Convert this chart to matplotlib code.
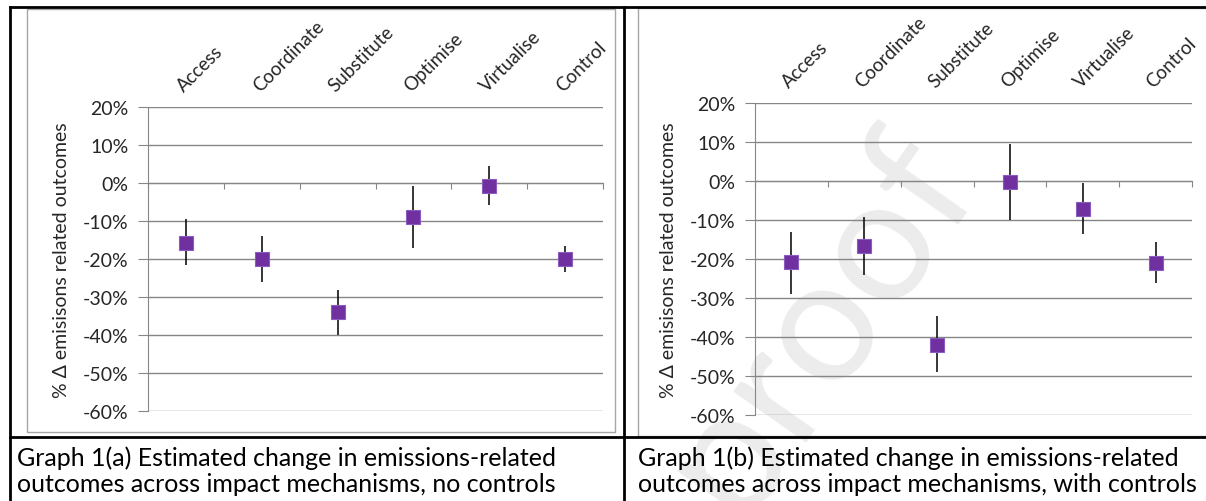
import numpy as np
import matplotlib.pyplot as plt
from matplotlib.lines import Line2D
from matplotlib.patches import Rectangle

plt.rcParams['font.family'] = ['Lato', 'DejaVu Sans']

# data (values in %)
categories = ["Access", "Coordinate", "Substitute", "Optimise", "Virtualise", "Control"]

est_a = [-15.7, -20.1, -33.9, -9.0, -0.7, -20.1]
hi_a = [-9.4, -14.0, -28.1, -0.9, 4.5, -16.6]
lo_a = [-21.7, -26.1, -39.9, -17.1, -5.8, -23.4]

est_b = [-20.8, -16.6, -42.0, -0.3, -7.1, -21.0]
hi_b = [-13.1, -9.1, -34.5, 9.5, -0.6, -15.7]
lo_b = [-28.9, -24.1, -49.0, -10.0, -13.6, -26.2]

yticks = [20, 10, 0, -10, -20, -30, -40, -50, -60]
ylabel = "% Δ emisisons related outcomes"
captions = [
    ["Graph 1(a) Estimated change in emissions-related",
     "outcomes across impact mechanisms, no controls"],
    ["Graph 1(b) Estimated change in emissions-related",
     "outcomes across impact mechanisms, with controls"],
]

W, H = 1206, 502
fig = plt.figure(figsize=(W / 100, H / 100), dpi=100)

def fx(px):
    return px / W

def fy(py):
    return 1 - py / H

grid_c = '#868686'
text_c = '#262626'
purple = '#7030A0'

# watermark, behind everything
fig.text(fx(800), fy(350), "-proof", fontsize=125, color='#ececec',
         rotation=55, ha='center', va='center', zorder=-1)

# chart frames (gray) and table lines (black)
fig.add_artist(Rectangle((fx(27), fy(433)), fx(615) - fx(27), fy(10) - fy(433),
                         transform=fig.transFigure, fill=False, ec='#a6a6a6', lw=1, zorder=1))
fig.add_artist(Rectangle((fx(638), fy(437)), fx(1215) - fx(638), fy(9) - fy(437),
                         transform=fig.transFigure, fill=False, ec='#a6a6a6', lw=1, zorder=1))
for xs, ys in [([10, 1206], [8, 8]), ([10, 10], [8, 502]), ([624, 624], [8, 502]),
               ([10, 1206], [438, 438])]:
    fig.add_artist(Line2D([fx(v) for v in xs], [fy(v) for v in ys],
                          transform=fig.transFigure, color='black', lw=2, zorder=2))

def draw(rect, est, hi, lo):
    ax = fig.add_axes(rect)
    ax.patch.set_alpha(0)
    x = np.arange(len(categories))
    est = np.array(est)
    err = [est - np.array(lo), np.array(hi) - est]
    ax.errorbar(x, est, yerr=err, fmt='s', color=purple, ecolor='black', elinewidth=1.1,
                capsize=0, markersize=10, markeredgecolor='#8a5cbf', markeredgewidth=0.8, zorder=3)
    ax.set_xlim(-0.5, len(categories) - 0.5)
    ax.set_ylim(-60, 20)
    ax.set_yticks(yticks)
    ax.set_yticklabels([f"{v}%" for v in yticks], fontsize=14, color=text_c)
    ax.yaxis.grid(True, color=grid_c, lw=1)
    ax.set_axisbelow(True)
    ax.tick_params(axis='y', length=7, color=grid_c, pad=7)
    for s in ['top', 'right']:
        ax.spines[s].set_visible(False)
    ax.spines['left'].set_color(grid_c)
    ax.spines['bottom'].set_position(('data', 0))
    ax.spines['bottom'].set_color(grid_c)
    ax.set_xticks(np.arange(len(categories) + 1) - 0.5)
    ax.set_xticklabels([])
    ax.tick_params(axis='x', direction='out', length=4, color=grid_c)
    top = ax.secondary_xaxis('top')
    top.set_xticks(x)
    top.set_xticklabels(categories, rotation=45, ha='left', rotation_mode='anchor',
                        fontsize=13.5, color=text_c)
    top.tick_params(length=0, pad=9)
    top.spines['top'].set_visible(False)
    ax.set_ylabel(ylabel, fontsize=14, color=text_c, labelpad=9)
    return ax

draw([fx(148), fy(412.3), fx(603) - fx(148), fy(107.7) - fy(412.3)], est_a, hi_a, lo_a)
draw([fx(755), fy(416.3), fx(1192) - fx(755), fy(104) - fy(416.3)], est_b, hi_b, lo_b)

for x0, lines in zip([17, 638], captions):
    fig.text(fx(x0), fy(466), lines[0], fontsize=18, color='black', va='baseline')
    fig.text(fx(x0), fy(492), lines[1], fontsize=18, color='black', va='baseline')

fig.savefig("out.png", dpi=100)
